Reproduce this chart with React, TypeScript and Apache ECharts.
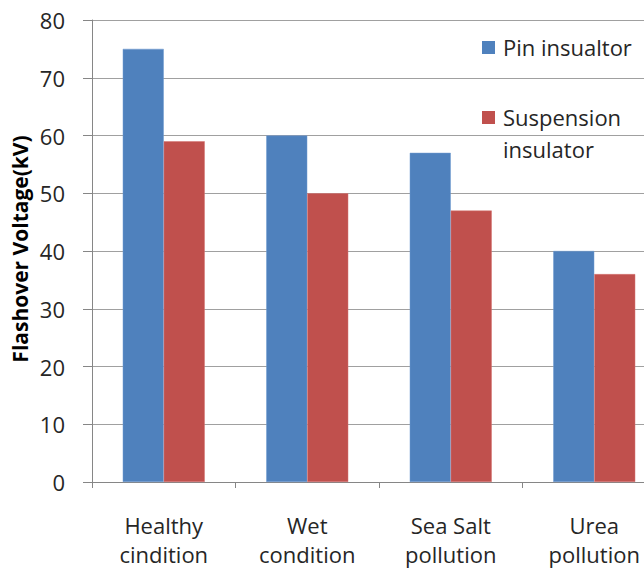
import React, { useEffect, useRef } from "react";
import * as echarts from "echarts";

const categories = ["Healthy\ncindition", "Wet\ncondition", "Sea Salt\npollution", "Urea\npollution"];
const pinValues = [75, 60, 57, 40];
const suspensionValues = [59, 50, 47, 36];
const seriesNames = ["Pin insualtor", "Suspension insulator"];
const yTitle = "Flashover Voltage(kV)";

const FONT = "'Open Sans', 'Noto Sans', sans-serif";

export default function App() {
  const ref = useRef<HTMLDivElement>(null);
  useEffect(() => {
    if (!ref.current) return;
    const chart = echarts.init(ref.current, undefined, { renderer: "svg" });
    chart.setOption({
      animation: false,
      backgroundColor: "#ffffff",
      grid: {
        left: 92,
        top: 20,
        right: -22,
        bottom: 87,
        containLabel: false,
        outerBoundsMode: "none",
      },
      xAxis: {
        type: "category",
        data: categories,
        axisLine: { show: true, lineStyle: { color: "#868686", width: 1 } },
        axisTick: { show: true, alignWithLabel: false, length: 6, lineStyle: { color: "#868686" } },
        axisLabel: {
          fontFamily: FONT,
          fontSize: 22,
          lineHeight: 29,
          margin: 28,
          color: "#262626",
          interval: 0,
        },
      },
      yAxis: {
        type: "value",
        min: 0,
        max: 80,
        interval: 10,
        axisLine: { show: true, lineStyle: { color: "#868686", width: 1 } },
        axisTick: { show: true, length: 9, lineStyle: { color: "#868686" } },
        splitLine: { show: true, lineStyle: { color: "#a0a0a0", width: 1 } },
        axisLabel: { fontFamily: FONT, fontSize: 22, margin: 27, color: "#262626" },
      },
      series: [
        {
          name: seriesNames[0],
          type: "bar",
          data: pinValues,
          barWidth: 41,
          barGap: "0%",
          itemStyle: { color: "#4f81bd", borderColor: "#6f9bd0", borderWidth: 0.5 },
        },
        {
          name: seriesNames[1],
          type: "bar",
          data: suspensionValues,
          barWidth: 41,
          barGap: "0%",
          itemStyle: { color: "#c0504d", borderColor: "#d47370", borderWidth: 0.5 },
        },
      ],
      graphic: [
        {
          type: "text",
          x: 20,
          y: 249,
          rotation: Math.PI / 2,
          style: {
            text: yTitle,
            fontFamily: FONT,
            fontSize: 21,
            fontWeight: "bold",
            fill: "#000000",
            align: "center",
            verticalAlign: "middle",
          },
        },
        { type: "rect", shape: { x: 482, y: 41, width: 13, height: 13 }, style: { fill: "#4f81bd" } },
        {
          type: "text",
          x: 503,
          y: 47,
          style: { text: seriesNames[0], fontFamily: FONT, fontSize: 22, fill: "#262626", verticalAlign: "middle" },
        },
        { type: "rect", shape: { x: 482, y: 111, width: 13, height: 13 }, style: { fill: "#c0504d" } },
        {
          type: "text",
          x: 503,
          y: 117,
          style: { text: "Suspension", fontFamily: FONT, fontSize: 22, fill: "#262626", verticalAlign: "middle" },
        },
        {
          type: "text",
          x: 503,
          y: 149,
          style: { text: "insulator", fontFamily: FONT, fontSize: 22, fill: "#262626", verticalAlign: "middle" },
        },
      ],
    });
    return () => chart.dispose();
  }, []);
  return (
    <div
      ref={ref}
      style={{ position: "absolute", left: 0, top: 0, width: 644, height: 569, overflow: "hidden" }}
    />
  );
}
